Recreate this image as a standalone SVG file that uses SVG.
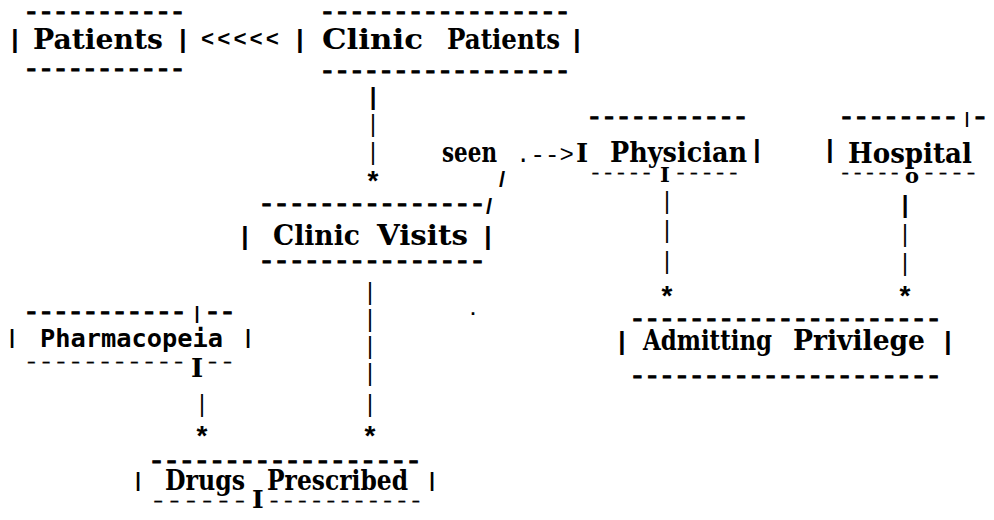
<svg xmlns="http://www.w3.org/2000/svg" width="994" height="520" viewBox="0 0 994 520">
<style>
text{fill:#000}
.lbl{font-family:"DejaVu Serif","Liberation Serif",serif;font-weight:bold;font-size:27px}
.sans{font-family:"DejaVu Sans Mono","Liberation Mono",monospace;font-weight:bold;font-size:24px}
.txt{font-family:"Liberation Mono",monospace;font-size:24px}
.dash{font-family:"Liberation Mono",monospace;font-weight:bold;font-size:18px;stroke:#000;stroke-width:1}
.ldash{font-family:"Liberation Mono",monospace;font-weight:normal;font-size:18px;stroke:#000;stroke-width:0.3}
.pipe{font-family:"Liberation Sans",sans-serif;font-weight:bold;font-size:26px;text-anchor:middle}
.p16{font-family:"Liberation Sans",sans-serif;font-weight:bold;font-size:16px}
.p18{font-family:"Liberation Sans",sans-serif;font-weight:bold;font-size:18px}
.vl{font-family:"Liberation Sans",sans-serif;font-weight:normal;font-size:23px;text-anchor:middle}
.vlb{font-family:"Liberation Sans",sans-serif;font-weight:bold;font-size:24px;text-anchor:middle}
.star{font-family:"Liberation Sans",sans-serif;font-weight:bold;font-size:28px;text-anchor:middle}
.mk{font-family:"DejaVu Serif","Liberation Serif",serif;font-weight:bold}
</style>
<rect width="994" height="520" fill="#fff"/>

<g id="patients">
<text class="dash" x="24" y="17.7" textLength="161" lengthAdjust="spacingAndGlyphs">-----------</text>
<text class="pipe" x="15" y="48">|</text>
<text class="lbl" x="33" y="49" textLength="130" lengthAdjust="spacingAndGlyphs">Patients</text>
<text class="pipe" x="183" y="48">|</text>
<text class="dash" x="24" y="74.7" textLength="161" lengthAdjust="spacingAndGlyphs">-----------</text>
</g>

<g id="clinic-patients">
<text class="dash" x="320" y="17.7" textLength="250" lengthAdjust="spacingAndGlyphs">-----------------</text>
<text class="pipe" x="300" y="48">|</text>
<text class="lbl" y="49"><tspan x="322" textLength="101" lengthAdjust="spacingAndGlyphs">Clinic</tspan> <tspan x="447" textLength="113" lengthAdjust="spacingAndGlyphs">Patients</tspan></text>
<text class="pipe" x="577" y="48">|</text>
<text class="dash" x="320" y="76.7" textLength="250" lengthAdjust="spacingAndGlyphs">-----------------</text>
</g>

<g id="clinic-visits">
<text class="dash" x="259" y="209.7" textLength="226" lengthAdjust="spacingAndGlyphs">---------------</text>
<text class="pipe" x="245" y="245">|</text>
<text class="lbl" y="245"><tspan x="273" textLength="87" lengthAdjust="spacingAndGlyphs">Clinic</tspan> <tspan x="377" textLength="91" lengthAdjust="spacingAndGlyphs">Visits</tspan></text>
<text class="pipe" x="488" y="245">|</text>
<text class="dash" x="259" y="266.7" textLength="226" lengthAdjust="spacingAndGlyphs">---------------</text>
</g>

<g id="physician">
<text class="dash" x="587" y="122.7" textLength="161" lengthAdjust="spacingAndGlyphs">-----------</text>
<text class="lbl" x="610" y="162" textLength="137" lengthAdjust="spacingAndGlyphs">Physician</text>
<text class="pipe" x="757" y="157.5">|</text>
<text><tspan class="ldash" x="589" y="178.7" textLength="64" lengthAdjust="spacingAndGlyphs">-----</tspan><tspan class="mk" x="660" y="182" font-size="21">I</tspan><tspan class="ldash" x="674" y="178.7" textLength="66" lengthAdjust="spacingAndGlyphs">-----</tspan></text>
</g>

<g id="hospital">
<text><tspan class="dash" x="839" y="122.7" textLength="119" lengthAdjust="spacingAndGlyphs">--------</tspan><tspan class="p16" x="964.8" y="123.5">|</tspan><tspan class="dash" x="972" y="122.7" textLength="16" lengthAdjust="spacingAndGlyphs">-</tspan></text>
<text class="pipe" x="830" y="157.5">|</text>
<text class="lbl" x="848" y="163" textLength="124" lengthAdjust="spacingAndGlyphs">Hospital</text>
<text><tspan class="ldash" x="839" y="178.7" textLength="62" lengthAdjust="spacingAndGlyphs">-----</tspan><tspan class="mk" x="905" y="183" font-size="21">o</tspan><tspan class="ldash" x="922" y="178.7" textLength="56" lengthAdjust="spacingAndGlyphs">----</tspan></text>
</g>

<g id="pharmacopeia">
<text><tspan class="dash" x="24" y="317.7" textLength="162" lengthAdjust="spacingAndGlyphs">-----------</tspan><tspan class="p18" x="194.5" y="319">|</tspan><tspan class="dash" x="205" y="317.7" textLength="30" lengthAdjust="spacingAndGlyphs">--</tspan></text>
<text class="pipe" x="12" y="344" style="font-size:20px">|</text>
<text class="sans" x="40" y="347" textLength="183" lengthAdjust="spacingAndGlyphs">Pharmacopeia</text>
<text class="pipe" x="248" y="344" style="font-size:20px">|</text>
<text><tspan class="ldash" x="24" y="367.7" textLength="162" lengthAdjust="spacingAndGlyphs">-----------</tspan><tspan class="mk" x="191" y="377" font-size="26">I</tspan><tspan class="ldash" x="205" y="367.7" textLength="30" lengthAdjust="spacingAndGlyphs">--</tspan></text>
</g>

<g id="admitting-privilege">
<text class="dash" x="630" y="324.7" textLength="311" lengthAdjust="spacingAndGlyphs">---------------------</text>
<text class="pipe" x="622" y="350">|</text>
<text class="lbl" y="350"><tspan x="643" textLength="129" lengthAdjust="spacingAndGlyphs">Admitting</tspan> <tspan x="793" textLength="132" lengthAdjust="spacingAndGlyphs">Privilege</tspan></text>
<text class="pipe" x="948" y="350">|</text>
<text class="dash" x="630" y="381.7" textLength="311" lengthAdjust="spacingAndGlyphs">---------------------</text>
</g>

<g id="drugs-prescribed">
<text class="dash" x="149" y="466.7" textLength="272" lengthAdjust="spacingAndGlyphs">------------------</text>
<text class="pipe" x="138" y="487" style="font-size:20px">|</text>
<text class="lbl" y="490"><tspan x="165" textLength="80" lengthAdjust="spacingAndGlyphs">Drugs</tspan> <tspan x="267" textLength="141" lengthAdjust="spacingAndGlyphs">Prescribed</tspan></text>
<text class="pipe" x="432" y="487" style="font-size:20px">|</text>
<text><tspan class="ldash" x="150" y="506.7" textLength="98" lengthAdjust="spacingAndGlyphs">------</tspan><tspan class="mk" x="252" y="508" font-size="25">I</tspan><tspan class="ldash" x="267" y="506.7" textLength="156" lengthAdjust="spacingAndGlyphs">-----------</tspan></text>
</g>

<g id="connectors">
<text class="txt" x="201" y="46" textLength="78" lengthAdjust="spacing" style="font-weight:bold;font-size:22px">&lt;&lt;&lt;&lt;&lt;</text>
<text class="vlb" x="373" y="105">|</text>
<text class="vl" x="373" y="132">|</text>
<text class="vl" x="373" y="160">|</text>
<text class="star" x="373" y="190">*</text>
<text class="lbl" x="442" y="162" textLength="55" lengthAdjust="spacingAndGlyphs">seen</text>
<text class="txt" x="516" y="162" textLength="58" lengthAdjust="spacing">.--&gt;</text>
<text class="mk" x="576" y="162" font-size="26">I</text>
<text class="pipe" x="502" y="187" style="font-size:22px">/</text>
<text class="pipe" x="489" y="214" style="font-size:22px">/</text>
<text class="vl" x="667" y="209">|</text>
<text class="vl" x="667" y="238">|</text>
<text class="vl" x="667" y="269">|</text>
<text class="star" x="667" y="305">*</text>
<text class="vlb" x="905" y="213">|</text>
<text class="vl" x="905" y="242">|</text>
<text class="vl" x="905" y="271">|</text>
<text class="star" x="905" y="305">*</text>
<text class="vl" x="370" y="300">|</text>
<text class="vl" x="370" y="327">|</text>
<text class="vl" x="370" y="354">|</text>
<text class="vl" x="370" y="381">|</text>
<text class="vl" x="370" y="412">|</text>
<text class="star" x="370" y="445">*</text>
<text class="vl" x="202" y="412">|</text>
<text class="star" x="202" y="445">*</text>
</g>

<text class="pipe" x="473" y="315" style="font-size:18px">.</text>
</svg>
